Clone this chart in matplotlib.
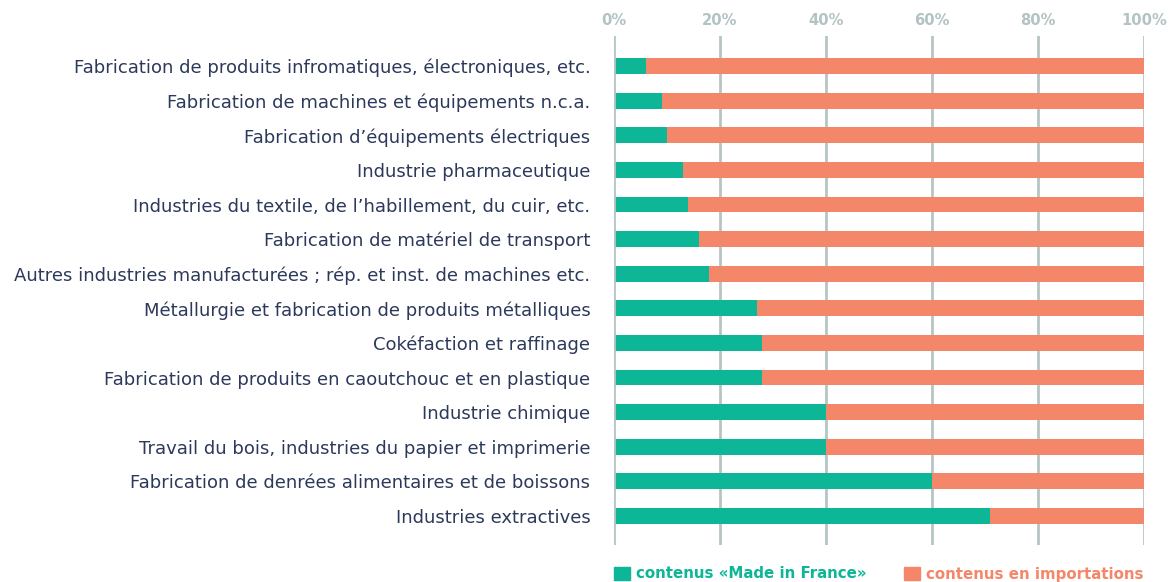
import matplotlib
matplotlib.use("Agg")
import matplotlib.pyplot as plt
from matplotlib.patches import Patch
from matplotlib.font_manager import FontProperties

categories = [
    "Fabrication de produits infromatiques, électroniques, etc.",
    "Fabrication de machines et équipements n.c.a.",
    "Fabrication d’équipements électriques",
    "Industrie pharmaceutique",
    "Industries du textile, de l’habillement, du cuir, etc.",
    "Fabrication de matériel de transport",
    "Autres industries manufacturées ; rép. et inst. de machines etc.",
    "Métallurgie et fabrication de produits métalliques",
    "Cokéfaction et raffinage",
    "Fabrication de produits en caoutchouc et en plastique",
    "Industrie chimique",
    "Travail du bois, industries du papier et imprimerie",
    "Fabrication de denrées alimentaires et de boissons",
    "Industries extractives",
]
made_in_france = [6, 9, 10, 13, 14, 16, 18, 27, 28, 28, 40, 40, 60, 71]
importations = [100 - v for v in made_in_france]
xticks = [0, 20, 40, 60, 80, 100]
xticklabels = ["0%", "20%", "40%", "60%", "80%", "100%"]
legend_labels = ["contenus «Made in France»", "contenus en importations"]

GREEN = "#0cb697"
SALMON = "#f4866a"
GRID = "#b5c5c5"
NAVY = "#2c395b"
TICK = "#b3c3c3"

plt.rcParams['font.family'] = ['DejaVu Sans']

tick_fp = FontProperties(family=['DejaVu Sans'], weight='bold', size=10.6)
leg_fp = FontProperties(family=['DejaVu Sans'], weight='bold', size=10.8)
lab_fp = FontProperties(family=['DejaVu Sans'], size=13)

W, H = 1170, 582
fig = plt.figure(figsize=(W / 100, H / 100), dpi=100)
ax = fig.add_axes([614 / W, 1 - 545 / H, (1144 - 614) / W, (545 - 36) / H])

y = list(range(len(categories)))
ax.barh(y, made_in_france, height=0.46, color=GREEN, zorder=2)
ax.barh(y, importations, left=made_in_france, height=0.46, color=SALMON, zorder=2)

ax.set_xlim(0, 100)
ax.set_ylim(len(categories) - 1 + 0.84, -0.87)
ax.set_xticks(xticks)
ax.set_xticklabels(xticklabels, color=TICK, fontproperties=tick_fp)
ax.xaxis.tick_top()
ax.tick_params(axis='x', length=0, pad=6)
for s in ax.spines.values():
    s.set_visible(False)
for xv in xticks:
    ax.axvline(xv, color=GRID, lw=2, zorder=3 if xv == 0 else 1)
ax.set_yticks(y)
ax.set_yticklabels(categories, color=NAVY, fontproperties=lab_fp)
ax.tick_params(axis='y', length=0, pad=17)

handles = [Patch(color=GREEN), Patch(color=SALMON)]
leg = fig.legend(handles, legend_labels, loc='center left',
                 bbox_to_anchor=(614 / W, 1 - 574 / H), ncol=2, frameon=False,
                 handlelength=1.05, handleheight=1.0, handletextpad=0.4,
                 columnspacing=2.5, prop=leg_fp, borderaxespad=0, borderpad=0)
for t, c in zip(leg.get_texts(), [GREEN, SALMON]):
    t.set_color(c)

fig.savefig("out.png", dpi=100)
